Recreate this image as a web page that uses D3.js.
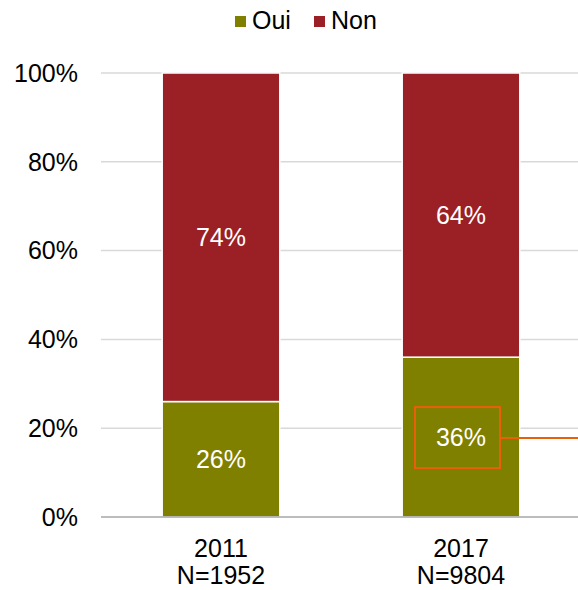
<!DOCTYPE html>
<html>
<head>
<meta charset="utf-8">
<script src="https://cdn.jsdelivr.net/npm/d3@7"></script>
<style>
  body { margin: 0; background: #fff; }
  svg { font-family: "Liberation Sans", Arial, sans-serif; }
</style>
</head>
<body>
<svg id="chart" width="578" height="590"></svg>
<script>
"use strict";

const years = ['2011', '2017'];
const sampleSizes = ['N=1952', 'N=9804'];
const oui = [26, 36];
const non = [74, 64];
const seriesNames = ['Oui', 'Non'];
const yTicks = [0, 20, 40, 60, 80, 100];

const COLORS = { Oui: '#808000', Non: '#9B2025' };
const FONT_SIZE = 25;

const svg = d3.select('#chart');
const plotLeft = 101, plotRight = 581, plotTop = 73, plotBottom = 517;

const x = d3.scaleBand().domain(years).range([plotLeft, plotRight]).paddingInner(0.51).paddingOuter(0.255);
const y = d3.scaleLinear().domain([0, 100]).range([plotBottom, plotTop]);

// gridlines
svg.append('g').selectAll('line').data(yTicks.filter(t => t > 0)).join('line')
    .attr('x1', plotLeft).attr('x2', 578)
    .attr('y1', d => y(d)).attr('y2', d => y(d))
    .attr('stroke', '#d9d9d9').attr('stroke-width', 1.5);

// y tick labels
svg.append('g').selectAll('text').data(yTicks).join('text')
    .attr('x', 78).attr('y', d => y(d)).attr('dy', '0.35em')
    .attr('text-anchor', 'end').attr('font-size', FONT_SIZE).attr('fill', '#000')
    .text(d => d + '%');

// stacked bars
const rows = years.map((yr, i) => ({ year: yr, Oui: oui[i], Non: non[i] }));
const stacked = d3.stack().keys(seriesNames)(rows);

stacked.forEach(layer => {
    const g = svg.append('g');
    g.selectAll('rect').data(layer).join('rect')
        .attr('x', d => x(d.data.year))
        .attr('width', x.bandwidth())
        .attr('y', d => y(d[1]))
        .attr('height', d => y(d[0]) - y(d[1]))
        .attr('fill', COLORS[layer.key])
        .attr('stroke', '#fff').attr('stroke-width', 1.5);
    g.selectAll('text').data(layer).join('text')
        .attr('x', d => x(d.data.year) + x.bandwidth() / 2)
        .attr('y', d => y((d[0] + d[1]) / 2))
        .attr('dy', '0.35em')
        .attr('text-anchor', 'middle').attr('font-size', FONT_SIZE).attr('fill', '#fff')
        .text(d => (d[1] - d[0]) + '%');
});

// baseline
svg.append('line').attr('x1', plotLeft).attr('x2', 578).attr('y1', plotBottom).attr('y2', plotBottom)
    .attr('stroke', '#a6a6a6').attr('stroke-width', 1.5);

// x labels
years.forEach((yr, i) => {
    const cx = x(yr) + x.bandwidth() / 2;
    const t = svg.append('text')
        .attr('x', cx).attr('y', 557)
        .attr('text-anchor', 'middle').attr('font-size', FONT_SIZE).attr('fill', '#000');
    t.append('tspan').attr('x', cx).text(yr);
    t.append('tspan').attr('x', cx).attr('dy', 27).text(sampleSizes[i]);
});

// highlight box on 2017 Oui
const hx = x('2017') + x.bandwidth() / 2;
const hy = y(oui[1] / 2);
svg.append('rect')
    .attr('x', hx - 46).attr('y', hy - 30).attr('width', 85).attr('height', 61)
    .attr('fill', 'none').attr('stroke', '#E8600A').attr('stroke-width', 2);
svg.append('line')
    .attr('x1', hx + 39).attr('x2', 578).attr('y1', hy + 1).attr('y2', hy + 1)
    .attr('stroke', '#E8600A').attr('stroke-width', 2);

// legend
const legend = svg.append('g');
const legendX = [235, 314];
seriesNames.forEach((name, i) => {
    legend.append('rect').attr('x', legendX[i]).attr('y', 16).attr('width', 11).attr('height', 11)
        .attr('fill', COLORS[name]);
    legend.append('text').attr('x', legendX[i] + 17).attr('y', 29)
        .attr('font-size', FONT_SIZE).attr('fill', '#000').text(name);
});
</script>
</body>
</html>
